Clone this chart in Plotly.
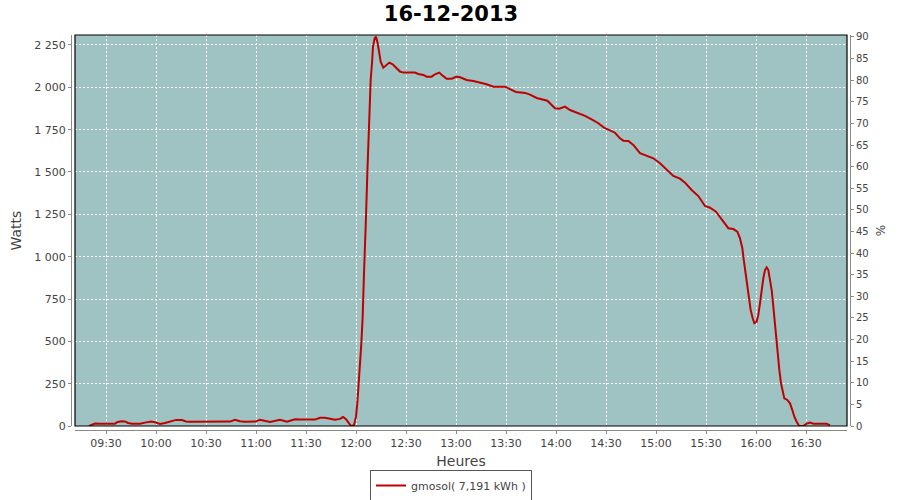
import plotly.graph_objects as go
import pandas as pd

# time of each reading, in minutes after midnight on 16-12-2013
minutes = [559.8, 561.0, 563.4, 566.4, 575.4, 576.6, 579.0, 581.4, 583.2, 585.6,
           590.4, 593.4, 597.0, 599.4, 602.4, 605.4, 608.4, 612.0, 615.6, 618.0,
           620.4, 626.4, 638.4, 644.4, 647.4, 650.4, 653.4, 659.4, 662.4, 665.4,
           668.4, 674.4, 678.6, 683.4, 686.4, 695.4, 698.4, 701.4, 704.4, 707.4,
           710.4, 712.2, 714.0, 715.8, 717.0, 718.8, 720.0, 720.8, 721.6, 722.4,
           723.2, 724.0, 724.8, 725.6, 726.0, 726.8, 727.4, 728.0, 728.8, 729.6,
           730.2, 731.2, 732.0, 733.0, 734.0, 734.8, 736.4, 738.0, 740.0, 742.0,
           744.4, 746.4, 748.4, 755.4, 757.4, 760.4, 762.4, 765.4, 767.4, 770.0,
           772.0, 774.4, 777.4, 780.4, 782.4, 786.4, 790.4, 794.4, 798.4, 802.4,
           809.4, 812.4, 816.0, 821.4, 824.4, 828.4, 832.4, 834.8, 837.4, 839.4,
           842.0, 845.4, 848.4, 852.4, 857.4, 861.4, 865.4, 868.8, 872.4, 875.4,
           878.4, 880.4, 883.4, 886.4, 890.4, 894.4, 898.4, 902.4, 906.4, 910.4,
           914.4, 917.4, 921.4, 925.4, 929.4, 932.4, 936.0, 939.4, 943.4, 946.4,
           948.8, 950.4, 951.8, 952.8, 954.0, 955.4, 956.8, 958.0, 959.0, 960.4,
           961.4, 962.4, 963.4, 964.4, 965.4, 966.4, 967.4, 968.4, 969.4, 970.4,
           971.4, 972.8, 974.0, 975.0, 976.0, 977.0, 978.8, 980.4, 981.8, 983.0,
           984.4, 985.8, 988.4, 990.4, 992.4, 994.4, 1002.4, 1004.4]

watts = [0, 5, 14, 13, 13, 22, 28, 27, 18, 14,
         14, 20, 26, 22, 12, 18, 28, 36, 35, 27,
         25, 25, 25, 26, 37, 28, 25, 26, 37, 30,
         24, 37, 26, 40, 38, 38, 49, 48, 42, 37,
         42, 53, 40, 18, 0, 5, 55, 135, 232, 370,
         488, 646, 902, 1079, 1236, 1492, 1689, 1886, 2043, 2142,
         2240, 2290, 2299, 2260, 2201, 2152, 2116, 2128, 2146, 2136,
         2112, 2093, 2087, 2087, 2079, 2073, 2063, 2063, 2077, 2087,
         2069, 2051, 2051, 2063, 2059, 2043, 2037, 2028, 2018, 2004,
         2004, 1989, 1973, 1967, 1957, 1937, 1929, 1921, 1896, 1876,
         1874, 1886, 1866, 1851, 1831, 1811, 1788, 1762, 1748, 1732,
         1699, 1685, 1683, 1660, 1611, 1595, 1581, 1552, 1512, 1477,
         1461, 1437, 1394, 1358, 1299, 1289, 1266, 1221, 1168, 1163,
         1148, 1108, 1050, 970, 882, 764, 685, 636, 607, 616,
         656, 725, 803, 872, 921, 937, 921, 872, 803, 705,
         587, 449, 331, 252, 203, 163, 154, 134, 94, 55,
         25, 2, 0, 14, 20, 14, 14, 4]

day = "2013-12-16"
title_text = "16-12-2013"
series_name = "gmosol( 7,191 kWh )"
x_range_minutes = [551.4, 1014.6]
watts_range = [0, 2309]
pct_range = [0, 90.46]

base = pd.Timestamp(day)
times = [base + pd.Timedelta(minutes=m) for m in minutes]
x_range = [base + pd.Timedelta(minutes=m) for m in x_range_minutes]

FONT = "DejaVu Sans"
GRAY = "#444444"
AX = "#8a8a8a"

fig = go.Figure()
fig.add_trace(go.Scatter(
    x=times, y=watts, mode="lines", name=series_name,
    line=dict(color="#c00000", width=2),
))
fig.add_trace(go.Scatter(
    x=[times[0]], y=[None], yaxis="y2", mode="lines",
    showlegend=False, hoverinfo="skip",
))

fig.update_layout(
    width=900, height=500,
    margin=dict(l=71, r=50, t=35, b=70, autoexpand=False),
    paper_bgcolor="white",
    plot_bgcolor="#9fc3c3",
    separators=", ",
    font=dict(family=FONT, size=11, color=GRAY),
    title=dict(text="<b>" + title_text + "</b>", x=451 / 900, xanchor="center",
               xref="container", yref="container",
               y=1 - 14 / 500, yanchor="middle",
               font=dict(family=FONT, size=21, color="black")),
    showlegend=True,
    legend=dict(orientation="h", xref="container", yref="container",
                x=451 / 900, xanchor="center", y=1 - 470 / 500, yanchor="top",
                bordercolor="#555555", borderwidth=1, bgcolor="white",
                font=dict(family=FONT, size=11, color=GRAY),
                itemwidth=30, tracegroupgap=0),
    xaxis=dict(
        domain=[4 / 779, 776 / 779],
        anchor="free", position=0, automargin=False,
        type="date", range=x_range,
        dtick=1800000, tickformat="%H:%M",
        showline=True, linecolor=AX, linewidth=1,
        ticks="outside", ticklen=3, tickcolor=AX,
        showgrid=True, gridcolor="white", gridwidth=1, griddash="2px,2px",
        zeroline=False,
        title=dict(text="Heures", font=dict(family=FONT, size=14, color=GRAY), standoff=6),
        tickfont=dict(family=FONT, size=11, color=GRAY),
    ),
    yaxis=dict(
        domain=[4 / 395, 1],
        anchor="free", position=0, automargin=False,
        range=watts_range, dtick=250, tickformat=",d",
        showline=True, linecolor=AX, linewidth=1,
        ticks="outside", ticklen=3, tickcolor=AX,
        showgrid=True, gridcolor="white", gridwidth=1, griddash="2px,2px",
        zeroline=False,
        title=dict(text="Watts", font=dict(family=FONT, size=14, color=GRAY), standoff=8),
        tickfont=dict(family=FONT, size=11, color=GRAY),
    ),
    yaxis2=dict(
        overlaying="y", side="right", anchor="free", position=1, automargin=False,
        range=pct_range, dtick=5,
        showline=True, linecolor=AX, linewidth=1,
        ticks="outside", ticklen=3, tickcolor=AX,
        showgrid=False, zeroline=False,
        title=dict(text="%", font=dict(family=FONT, size=12, color=GRAY), standoff=8),
        tickfont=dict(family=FONT, size=10, color=GRAY),
    ),
    shapes=[dict(type="rect", xref="x domain", yref="y domain",
                 x0=0, x1=1, y0=0, y1=1, line=dict(color="black", width=1.2),
                 fillcolor="rgba(0,0,0,0)", layer="above")],
)

fig.write_html("out.html",
               config={"displayModeBar": False},
               post_script="document.body.style.margin='0';document.body.style.padding='0';")
